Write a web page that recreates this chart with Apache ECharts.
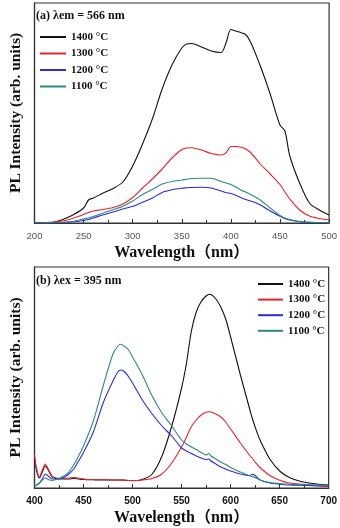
<!DOCTYPE html>
<html>
<head>
<meta charset="utf-8">
<script src="https://cdn.jsdelivr.net/npm/echarts@6/dist/echarts.min.js"></script>
<style>
html, body { margin: 0; padding: 0; background: #fff; }
#chart { width: 340px; height: 528px; }
</style>
</head>
<body>
<div id="chart"></div>
<script>
// 图例名称
const names = ["1400 °C", "1300 °C", "1200 °C", "1100 °C"]
const colors = ["#111111", "#e8242a", "#2a2ae0", "#2a8a80"]

// (a) 激发光谱 λem = 566 nm
const aX = [200,210,220,230,240,250,255,260,270,280,290,300,310,320,330,340,350,355,360,370,380,390,395,400,405,410,415,420,430,440,450,455,460,470,480,490,500]
const a1400 = [0.3,0.5,1,4,8.5,15,23,25,30,34.5,41,57,79,104,134,158,175,179,179.5,176,172,170.5,180,193.5,192,190.5,188.5,181,157,129,98,92,67,40,20,13,8]
const a1300 = [0.2,0.4,0.8,2.2,5,8.5,10.5,12,13.5,15.5,19,25.5,35,44,54,65,73.5,75,75.3,73,69.5,68,70,76.5,76.5,75.8,74,70.5,59,49,38.5,31,24,13,7,4.5,3]
const a1200 = [0,0.1,0.3,0.7,1.3,2.5,3.5,5,8.3,11,14,16.7,20.7,25,30.5,33.2,34.8,35.2,35.5,35.7,35,32,30.5,29.5,27.8,25.5,23.5,22,18,12,6.8,4.5,3,1.3,0.6,0.4,0.3]
const a1100 = [0,0.1,0.3,0.8,1.8,4,5,6.5,10,13.3,16.8,22,28.5,33.5,39,41.5,43,43.8,44.5,44.8,44.7,41.5,40,38.5,36,33,31,28.5,23,15,7.5,5,3.5,1.5,0.7,0.4,0.3]

// (b) 发射光谱 λex = 395 nm
const bX = [400,402,405,408,411,414,418,422,426,430,435,440,445,450,460,470,480,485,488,492,496,500,510,520,530,540,550,555,560,565,570,575,578,580,585,590,595,600,610,620,622,625,630,640,650,660,670,680,690,700]
const b1400 = [31,18,10,16,22,18,11,9.5,9,9,9,9.5,9,8.5,8.2,8,8,8,8,7.8,7.5,7.3,8.5,14,32,62,100,125,157,176,186.5,192,193.7,193.5,189,181,169,151,113,77,70,61,48,29,17,10.5,7,5,3.8,3]
const b1300 = [33,20,11,18,24,19,12,10,9.5,9.5,10,10.5,10,9,8.5,8.5,8,8,8,7.8,7.5,7.5,8,9.5,14,25,41,51,61.5,68,73,75.8,76.3,76,74,71,66,59,45,32,30,26,20.5,12.5,7.8,5,4,3.2,2,1.3]
const b1200 = [2,3,5,9,14,12,9,9,9.5,10.5,14,19,27,35.5,56,85,107,116,118,116,111.3,105,88,74,62,52,40,37,34.5,32,30,28.5,29,27,24,21,19,17,14,12.5,13.7,12.5,8,5,3.8,3,2.7,2.5,2.3,2.3]
const b1100 = [2,3,5,8,10,8.5,7.5,8.5,10,12,16,23,32,42,67,102,134,142,143.7,141.5,138,131,113,92,75,62,48,44,41,38.5,35.5,33,34.5,32,29,26,23.5,20.5,16,12,11.5,10.5,8,5.5,4.5,3.8,3.4,3.2,3,3]

const aTicks = [200, 500, 50]
const bTicks = [400, 700, 50]

function pairs(xs, ys) {
  return xs.map((x, i) => [x, ys[i]])
}

const serif = "Liberation Serif, Times New Roman, Noto Sans CJK SC, serif"
const sans = "Liberation Sans, Arial, sans-serif"

let myChart = echarts.init(document.getElementById("chart"))

function xAxisOf(ticks, idx, labelStyle) {
  return {
    type: "value",
    gridIndex: idx,
    min: ticks[0],
    max: ticks[1],
    interval: ticks[2],
    name: "Wavelength（nm）",
    nameLocation: "middle",
    nameGap: 22,
    nameTextStyle: { fontFamily: serif, fontWeight: "bold", fontSize: 16, color: "#111" },
    axisLine: { show: true, lineStyle: { color: "#333", width: 1.2 } },
    axisTick: { show: true, inside: true, length: 4, lineStyle: { color: "#333" } },
    minorTick: { show: true, splitNumber: 2, length: 3, lineStyle: { color: "#333" } },
    axisLabel: Object.assign({ margin: 8, fontFamily: sans }, labelStyle),
    splitLine: { show: false },
    minorSplitLine: { show: false }
  }
}

function yAxisOf(idx, max) {
  return {
    type: "value",
    gridIndex: idx,
    min: 0,
    max: max,
    name: "PL Intensity (arb. units)",
    nameLocation: "middle",
    nameRotate: 90,
    nameGap: 11,
    nameTextStyle: { fontFamily: serif, fontWeight: "bold", fontSize: 15.5, color: "#111" },
    axisLine: { show: true, lineStyle: { color: "#333", width: 1.2 } },
    axisTick: { show: false },
    axisLabel: { show: false },
    splitLine: { show: false }
  }
}

function lineSeries(name, color, data, idx) {
  return {
    name: name,
    type: "line",
    xAxisIndex: idx,
    yAxisIndex: idx,
    data: data,
    showSymbol: false,
    smooth: 0.3,
    lineStyle: { color: color, width: 1.1 },
    itemStyle: { color: color }
  }
}

const legendText = { fontFamily: serif, fontWeight: "bold", fontSize: 11, color: "#111", lineHeight: 12 }

myChart.setOption({
  animation: false,
  title: [
    {
      text: "(a) λem = 566 nm",
      left: 31, top: 5,
      textStyle: { fontFamily: serif, fontWeight: "bold", fontSize: 12, color: "#111" }
    },
    {
      text: "(b) λex = 395 nm",
      left: 31, top: 270,
      textStyle: { fontFamily: serif, fontWeight: "bold", fontSize: 12, color: "#111" }
    }
  ],
  legend: [
    {
      data: names,
      left: 35, top: 26,
      orient: "vertical",
      icon: "rect",
      itemWidth: 26, itemHeight: 2,
      itemGap: 4.5,
      textStyle: legendText
    },
    {
      data: names,
      left: 253, top: 273,
      orient: "vertical",
      icon: "rect",
      itemWidth: 25, itemHeight: 2,
      itemGap: 3.6,
      textStyle: legendText
    }
  ],
  grid: [
    { left: 31, top: 3, width: 300, height: 220, show: true, borderColor: "#333", borderWidth: 1.2 },
    { left: 31, top: 267, width: 300, height: 221, show: true, borderColor: "#333", borderWidth: 1.2 }
  ],
  xAxis: [
    xAxisOf(aTicks, 0, { fontSize: 9.5, color: "#555" }),
    xAxisOf(bTicks, 1, { fontSize: 10, fontWeight: "bold", color: "#111" })
  ],
  yAxis: [yAxisOf(0, 220), yAxisOf(1, 221)],
  series: [
    lineSeries(names[0], colors[0], pairs(aX, a1400), 0),
    lineSeries(names[1], colors[1], pairs(aX, a1300), 0),
    lineSeries(names[2], colors[2], pairs(aX, a1200), 0),
    lineSeries(names[3], colors[3], pairs(aX, a1100), 0),
    lineSeries(names[0], colors[0], pairs(bX, b1400), 1),
    lineSeries(names[1], colors[1], pairs(bX, b1300), 1),
    lineSeries(names[2], colors[2], pairs(bX, b1200), 1),
    lineSeries(names[3], colors[3], pairs(bX, b1100), 1)
  ]
})
</script>
</body>
</html>
